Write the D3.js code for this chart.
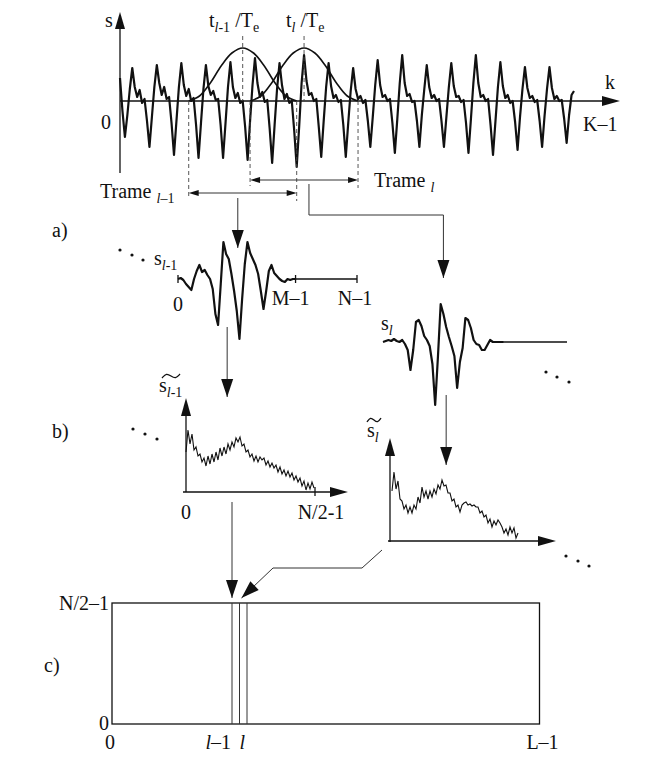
<!DOCTYPE html>
<meta charset="utf-8">
<head>
  <style>
    body { margin: 0; background: #fff; }
    svg { display: block; }
    text { font-family: "Liberation Serif", "Times New Roman", serif; font-size: 20px; fill: #111; }
    .sig { fill: none; stroke: #111; stroke-width: 2.2; stroke-linejoin: round; }
    .spec { fill: none; stroke: #111; stroke-width: 1.1; stroke-linejoin: miter; }
    .win { fill: none; stroke: #111; stroke-width: 1.6; }
    .ax { fill: none; stroke: #111; stroke-width: 1.3; }
    .thin { fill: none; stroke: #333; stroke-width: 1; }
    .dash { fill: none; stroke: #444; stroke-width: 0.9; stroke-dasharray: 4,3; }
    .head { fill: #111; stroke: none; }
    .tilde { fill: none; stroke: #111; stroke-width: 1.3; }
  </style>
</head>
<body>
<script src="https://d3js.org/d3.v7.min.js"></script>
<script>
  // long signal s(k), k = 0..K-1, one row per period
  const signal = [
    23, -10, -36, -14, 12, 33, 14, 4, 11, -2,
    2, -20, -46, -16, 14, 36, 18, 6, 14, 2,
    4, -22, -54, -20, 14, 38, 16, 5, 12, 0,
    3, -24, -57, -22, 12, 36, 15, 6, 10, 1,
    2, -24, -57, -22, 14, 39, 14, 3, 8, -2,
    0, -26, -59, -20, 16, 43, 18, 4, 9, -1,
    1, -28, -62, -24, 12, 38, 16, 2, 7, -2,
    0, -30, -66, -26, 18, 46, 20, 6, 8, 0,
    2, -26, -56, -20, 14, 38, 15, 3, 6, -1,
    1, -24, -56, -22, 10, 33, 12, 2, 5, -2,
    1, -20, -46, -16, 16, 41, 16, 4, 6, 0,
    2, -22, -52, -18, 18, 46, 18, 5, 7, -1,
    0, -20, -46, -14, 12, 36, 14, 3, 6, 0,
    2, -20, -46, -16, 14, 38, 15, 4, 5, -1,
    1, -22, -52, -18, 18, 46, 18, 4, 6, 0,
    2, -24, -54, -20, 14, 39, 15, 3, 6, -2,
    0, -21, -49, -16, 12, 34, 13, 3, 5, -1,
    1, -20, -46, -15, 12, 34, 13, 2, 5, 0,
    1, -18, -42, -14, 6, 10
  ];

  const M = 45;                 // frame length
  const N = 68;                 // padded length
  const frameStarts = [28, 53]; // frames l-1 and l
  const winVals = [0, 5, 18, 35, 48, 53, 48, 35, 18, 5, 0];

  // windowed frames s_{l-1}, s_l (M samples)
  const frameA = [0, 1, -1, -5, -8, -11, 0, 8, 14, 7, 9, 4, 0, -10, -35,
    -46, -5, 37, 25, 20, 5, -12, -32, -60, -20, 15, 37, 26, 20, 14,
    5, -12, -30, -12, 8, 14, 6, 3, 0, -2, -3, 0, -1, 0, 0];
  const frameB = [0, 1, 2, 1, 3, 1, 0, 2, -2, -8, -28, -8, 20, 22, 16,
    6, 2, -4, -22, -63, -15, 38, 28, 15, 5, -4, -14, -46, -20, -6,
    24, 22, 14, 2, -2, -3, -8, -8, -3, 2, 0, 0, 0, 0, 0];

  // magnitude spectra
  const specA = [40, 62, 48, 58, 42, 45, 36, 38, 30, 34, 26, 36, 28, 38, 30, 40,
    32, 44, 36, 45, 38, 48, 42, 50, 45, 54, 50, 55, 46, 48, 40, 42, 35, 38, 31,
    36, 30, 35, 32, 34, 27, 31, 25, 29, 24, 27, 20, 25, 18, 22, 16, 21, 15, 19,
    12, 16, 10, 14, 6, 11, 2, 9, 3, 10, 4];
  const specB = [50, 69, 52, 60, 42, 40, 32, 36, 28, 34, 28, 36, 32, 44, 38, 54,
    44, 50, 42, 50, 44, 52, 47, 56, 52, 61, 55, 56, 48, 48, 40, 42, 34, 36, 29,
    36, 38, 39, 36, 37, 35, 36, 34, 34, 28, 30, 24, 26, 18, 22, 14, 20, 16, 21,
    18, 14, 8, 12, 6, 14, 8, 13, 3, 8];

  const L = 58;            // number of frames
  const cols = [16, 17];   // columns l-1 and l

  const svg = d3.select("body").append("svg")
    .attr("width", 649).attr("height", 766);

  function head(x, y, dx, dy, len, wid) {
    const a = Math.atan2(dy, dx);
    const bx = x - len * Math.cos(a), by = y - len * Math.sin(a);
    const px = -Math.sin(a) * wid / 2, py = Math.cos(a) * wid / 2;
    svg.append("path").attr("class", "head")
      .attr("d", `M${x},${y}L${bx + px},${by + py}L${bx - px},${by - py}Z`);
  }

  function seg(x1, y1, x2, y2, cls) {
    svg.append("line").attr("class", cls)
      .attr("x1", x1).attr("y1", y1).attr("x2", x2).attr("y2", y2);
  }

  function arrowPath(pts, len, wid, cls) {
    svg.append("path").attr("class", cls || "thin").attr("d", d3.line()(pts));
    const n = pts.length;
    head(pts[n - 1][0], pts[n - 1][1],
      pts[n - 1][0] - pts[n - 2][0], pts[n - 1][1] - pts[n - 2][1], len, wid);
  }

  function label(x, y, parts, anchor) {
    const t = svg.append("text").attr("x", x).attr("y", y)
      .attr("text-anchor", anchor || "start");
    parts.forEach(p => {
      const s = t.append("tspan").text(p.t);
      if (p.size) s.attr("font-size", p.size);
      if (p.it) s.attr("font-style", "italic");
      if (p.dy) s.attr("dy", p.dy);
      if (p.dx) s.attr("dx", p.dx);
    });
    return t;
  }

  // wavy accent drawn over the spectrum symbol
  function tilde(x, y, w) {
    svg.append("path").attr("class", "tilde")
      .attr("d", d3.line().curve(d3.curveBasis)([
        [x, y + 2], [x + w * 0.25, y - 3], [x + w * 0.5, y], [x + w * 0.75, y + 3], [x + w, y - 2]
      ]));
  }

  function dots(pts) {
    pts.forEach(p => svg.append("circle").attr("cx", p[0]).attr("cy", p[1])
      .attr("r", 1.6).attr("fill", "#111"));
  }

  // ---------- top: s(k) with two windows ----------
  const xTop = d3.scaleLinear().domain([0, signal.length - 1]).range([120, 574]);
  const yTop = d3.scaleLinear().domain([-72, 89]).range([173, 12]);

  svg.append("path").datum(signal).attr("class", "sig")
    .attr("d", d3.line().x((d, i) => xTop(i)).y(d => yTop(d)));

  seg(xTop(0), yTop(-72), xTop(0), yTop(89) + 10, "ax");
  head(xTop(0), yTop(89), 0, -1, 17, 10);
  seg(xTop(0), yTop(0), xTop(signal.length - 1) + 36, yTop(0), "ax");
  head(xTop(signal.length - 1) + 46, yTop(0), 1, 0, 18, 10);

  const frameY = [193, 180];
  frameStarts.forEach((fs, j) => {
    const step = (M - 1) / (winVals.length - 1);
    svg.append("path").datum(winVals).attr("class", "win")
      .attr("d", d3.line().curve(d3.curveCatmullRom)
        .x((d, i) => xTop(fs + i * step)).y(d => yTop(d)));

    const xs = xTop(fs), xe = xTop(fs + M - 1), xc = xTop(fs + (M - 1) / 2);
    seg(xc, 36, xc, yTop(0), "dash");
    seg(xs, yTop(0), xs, frameY[j] + 6, "dash");
    seg(xe, yTop(0), xe, frameY[j] + 8, "dash");
    seg(xs + 8, frameY[j], xe - 8, frameY[j], "thin");
    head(xs, frameY[j], -1, 0, 10, 6);
    head(xe, frameY[j], 1, 0, 10, 6);
  });

  label(105, 27, [{t: "s"}]);
  label(209, 27, [{t: "t"}, {t: "l", it: 1, size: 14, dy: 5}, {t: "-1", size: 14},
    {t: " /T", dy: -5}, {t: "e", size: 14, dy: 5}]);
  label(286, 27, [{t: "t"}, {t: "l", it: 1, size: 14, dy: 5},
    {t: " /T", dy: -5}, {t: "e", size: 14, dy: 5}]);
  label(101, 129, [{t: "0"}]);
  label(605, 89, [{t: "k"}]);
  label(583, 131, [{t: "K–1"}]);
  label(100, 198, [{t: "Trame "}, {t: "l", it: 1, size: 14, dy: 5}, {t: "–1", size: 14}]);
  label(374, 187, [{t: "Trame "}, {t: "l", it: 1, size: 14, dy: 5}]);

  // ---------- a) frames ----------
  label(52, 237, [{t: "a)"}]);
  const xa = d3.scaleLinear().domain([0, N - 1]).range([178, 357]);
  const ya = d3.scaleLinear().domain([-60, 40]).range([339, 239]);
  svg.append("path").datum(frameA).attr("class", "sig")
    .attr("d", d3.line().x((d, i) => xa(i)).y(d => ya(d)));
  seg(xa(M - 1), ya(0), xa(N - 1), ya(0), "ax");
  [0, M - 1, N - 1].forEach(v => seg(xa(v), ya(0) - 4, xa(v), ya(0) + 4, "ax"));
  dots([[120, 250], [132, 255], [143, 260]]);
  label(154, 265, [{t: "s"}, {t: "l", it: 1, size: 14, dy: 5}, {t: "-1", size: 14}]);
  label(xa(0), 311, [{t: "0"}], "middle");
  label(xa(M - 1) - 5, 305, [{t: "M–1"}], "middle");
  label(xa(N - 1) - 2, 305, [{t: "N–1"}], "middle");

  const xl = d3.scaleLinear().domain([0, N - 1]).range([383, 567]);
  const yl = d3.scaleLinear().domain([-63, 40]).range([405, 302]);
  svg.append("path").datum(frameB).attr("class", "sig")
    .attr("d", d3.line().x((d, i) => xl(i)).y(d => yl(d)));
  seg(xl(M - 1), yl(0), xl(N - 1), yl(0), "ax");
  label(381, 330, [{t: "s"}, {t: "l", it: 1, size: 14, dy: 5}]);
  dots([[546, 372], [557, 377], [569, 382]]);

  // ---------- b) spectra ----------
  label(52, 438, [{t: "b)"}]);
  const xsa = d3.scaleLinear().domain([0, specA.length - 1]).range([186, 314]);
  const ysa = d3.scaleLinear().domain([0, 94]).range([492, 398]);
  svg.append("path").datum(specA).attr("class", "spec")
    .attr("d", d3.line().x((d, i) => xsa(i)).y(d => ysa(d)));
  seg(xsa(0), ysa(0), xsa(0), ysa(94) + 10, "ax");
  head(xsa(0), ysa(94), 0, -1, 18, 10);
  seg(xsa(0) - 3, ysa(0), 335, ysa(0), "ax");
  head(348, ysa(0), 1, 0, 18, 10);
  seg(xsa(specA.length - 1) + 1, ysa(0) - 5, xsa(specA.length - 1) + 1, ysa(0) + 4, "ax");
  dots([[133, 429], [145, 434], [157, 439]]);
  label(159, 392, [{t: "s"}, {t: "l", it: 1, size: 14, dy: 5}, {t: "-1", size: 14}]);
  tilde(162, 376, 18);
  label(xsa(0), 519, [{t: "0"}], "middle");
  label(321, 519, [{t: "N/2-1"}], "middle");

  const xsb = d3.scaleLinear().domain([0, specB.length - 1]).range([392, 518]);
  const ysb = d3.scaleLinear().domain([0, 103]).range([541, 438]);
  svg.append("path").datum(specB).attr("class", "spec")
    .attr("d", d3.line().x((d, i) => xsb(i)).y(d => ysb(d)));
  seg(xsb(0) - 2, ysb(0) + 1, xsb(0) - 2, ysb(103) + 10, "ax");
  head(xsb(0) - 2, ysb(103), 0, -1, 18, 10);
  seg(xsb(0) - 4, ysb(0), 540, ysb(0), "ax");
  head(556, ysb(0), 1, 0, 18, 10);
  label(367, 437, [{t: "s"}, {t: "l", it: 1, size: 14, dy: 5}]);
  tilde(367, 420, 14);
  dots([[566, 556], [578, 561], [589, 566]]);

  // ---------- c) time-frequency grid ----------
  label(44, 672, [{t: "c)"}]);
  const xc = d3.scaleLinear().domain([0, L - 1]).range([112, 539.5]);
  const yc = d3.scaleLinear().domain([0, N / 2 - 1]).range([724, 603]);
  svg.append("rect").attr("class", "ax")
    .attr("x", xc(0)).attr("y", yc(N / 2 - 1))
    .attr("width", xc(L - 1) - xc(0)).attr("height", yc(0) - yc(N / 2 - 1));
  [cols[0], cols[1], cols[1] + 1].forEach(c =>
    seg(xc(c), yc(0), xc(c), yc(N / 2 - 1), "thin"));
  label(xc(0) - 3, 610, [{t: "N/2–1"}], "end");
  label(xc(0) - 3, 730, [{t: "0"}], "end");
  label(xc(0) - 2, 749, [{t: "0"}], "middle");
  label(xc(cols[0]) - 1, 749, [{t: "l", it: 1}, {t: "–1"}], "end");
  label(xc(cols[1]), 749, [{t: "l", it: 1}]);
  label(xc(L - 1) + 3, 749, [{t: "L–1"}], "middle");

  // ---------- connecting arrows ----------
  arrowPath([[xTop(48), 198], [xTop(48), 248]], 18, 12);
  arrowPath([[xTop(77), 184], [xTop(77), 215], [xl(22), 215], [xl(22), 278]], 18, 12);
  arrowPath([[xa(18.4), 327], [xa(18.4), 397]], 18, 12);
  arrowPath([[xl(23), 395], [xl(23), 465]], 18, 12);
  arrowPath([[xsa(23), 502], [xsa(23), 598]], 18, 12);
  arrowPath([[382, 550], [362, 568], [273, 568], [xc(cols[1]) + 2, 598]], 18, 12);
</script>
</body>
